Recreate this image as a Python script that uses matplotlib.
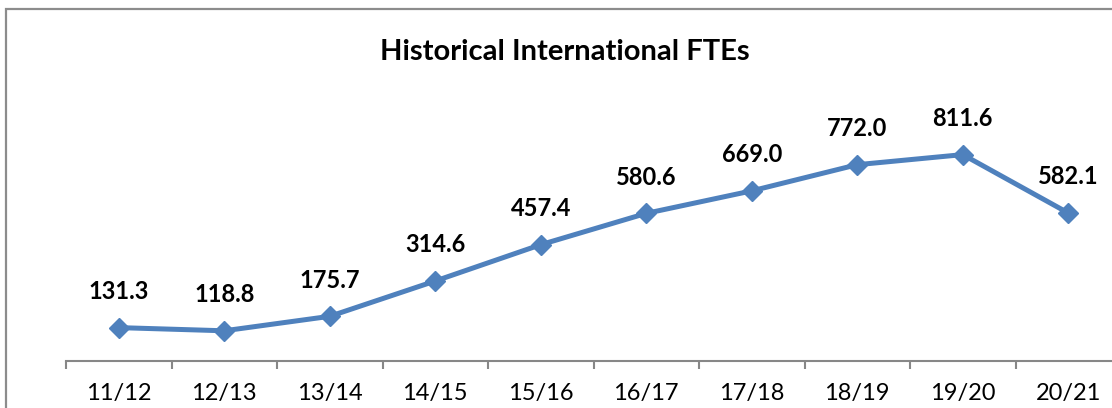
import matplotlib.pyplot as plt
from matplotlib.patches import Rectangle

years = ['11/12', '12/13', '13/14', '14/15', '15/16', '16/17', '17/18', '18/19', '19/20', '20/21']
ftes = [131.3, 118.8, 175.7, 314.6, 457.4, 580.6, 669.0, 772.0, 811.6, 582.1]

plt.rcParams['font.family'] = ['Lato', 'DejaVu Sans']

W, H = 1112, 408
fig = plt.figure(figsize=(W / 100, H / 100), dpi=100)

# chart border (cropped on the right and bottom in the original)
fig.patches.append(Rectangle((6 / W, -0.1), 1.2, (H - 9) / H + 0.1,
                             transform=fig.transFigure, fill=False,
                             edgecolor='#8c8c8c', linewidth=1.6))

ax = fig.add_axes([66 / W, (H - 361) / H, 1055 / W, 254.3 / H])
x = range(len(years))
ax.plot(x, ftes, color='#4f81bd', linewidth=3.6, marker='D', markersize=10,
        markeredgecolor='#4f81bd', clip_on=False)

for xi, v in zip(x, ftes):
    ax.annotate(f'{v:.1f}', (xi, v), xytext=(0, 26), textcoords='offset points',
                ha='center', va='center', fontsize=17, fontweight='bold')

ax.set_xlim(-0.5, len(years) - 0.5)
ax.set_ylim(0, 1000)
ax.set_xticks(list(x))
ax.set_xticklabels(years, fontsize=17)
ax.set_xticks([i - 0.5 for i in range(len(years) + 1)], minor=True)
ax.tick_params(axis='x', which='major', length=0, pad=16)
ax.tick_params(axis='x', which='minor', length=6, width=1.5, color='#878787', direction='out')
ax.set_yticks([])
for s in ['left', 'right', 'top']:
    ax.spines[s].set_visible(False)
ax.spines['bottom'].set_color('#878787')
ax.spines['bottom'].set_linewidth(1.5)

fig.text(565 / W, (H - 52) / H, 'Historical International FTEs', ha='center', va='center',
         fontsize=21, fontweight='bold')

fig.savefig('out.png', dpi=100)
